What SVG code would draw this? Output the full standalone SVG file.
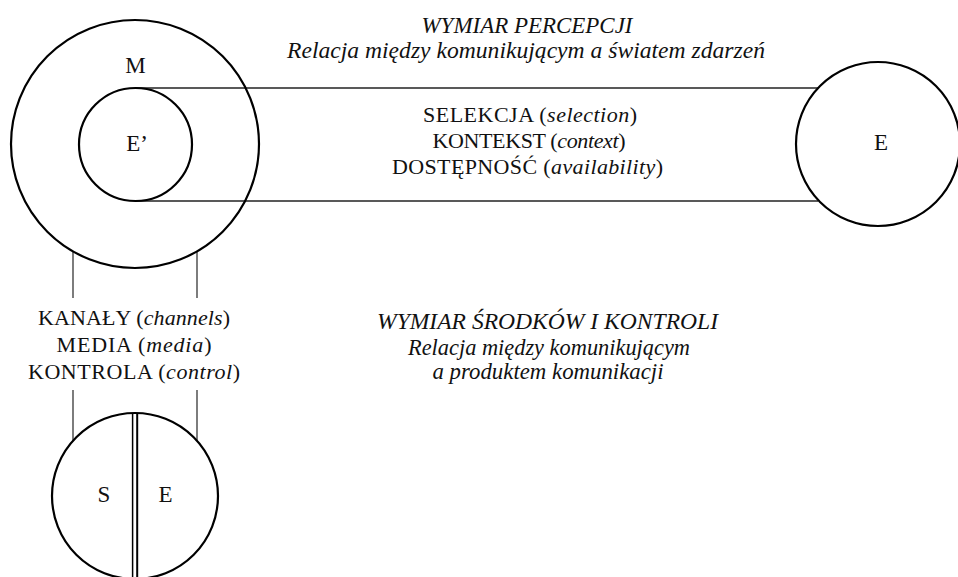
<svg xmlns="http://www.w3.org/2000/svg" width="958" height="577" viewBox="0 0 958 577">
  <style>
    .ring { fill: none; stroke: #000; stroke-width: 2.2; }
    .link { fill: none; stroke: #222; stroke-width: 1.3; }
    .post { fill: none; stroke: #111; stroke-width: 1.1; }
    text { font-family: "Liberation Serif", "DejaVu Serif", serif; font-size: 23px; fill: #111; text-anchor: middle; }
    .mix { font-size: 22px; }
    .it { font-style: italic; }
  </style>
  <rect width="958" height="577" fill="#fff"/>

  <!-- connectors: bands between the circles -->
  <g id="connectors">
    <line class="link" x1="135" y1="88" x2="818" y2="88"/>
    <line class="link" x1="135" y1="201" x2="818" y2="201"/>
    <line class="post" x1="73" y1="252" x2="73" y2="298"/>
    <line class="post" x1="197" y1="252" x2="197" y2="298"/>
    <line class="post" x1="73" y1="390" x2="73" y2="441"/>
    <line class="post" x1="197" y1="390" x2="197" y2="441"/>
  </g>

  <!-- communicator M with inner event image E' -->
  <g id="node-M">
    <circle class="ring" cx="135" cy="144" r="124"/>
    <text x="135.5" y="73">M</text>
  </g>
  <g id="node-Eprime">
    <circle fill="#fff" class="ring" cx="135.5" cy="144.5" r="56.5"/>
    <text x="137" y="151">E’</text>
  </g>

  <!-- event E -->
  <g id="node-E">
    <circle fill="#fff" class="ring" cx="878" cy="144" r="82"/>
    <text x="881" y="150">E</text>
  </g>

  <!-- split circle S | E -->
  <g id="node-SE">
    <circle fill="#fff" class="ring" cx="135" cy="496" r="83"/>
    <line x1="132.6" y1="413" x2="132.6" y2="577" stroke="#000" stroke-width="1.5"/>
    <line x1="137.2" y1="413" x2="137.2" y2="577" stroke="#000" stroke-width="2"/>
    <text x="104" y="502">S</text>
    <text x="165.5" y="502">E</text>
  </g>

  <!-- perception dimension labels -->
  <g id="label-perception">
    <text class="it" x="527" y="33" textLength="211" lengthAdjust="spacingAndGlyphs">WYMIAR PERCEPCJI</text>
    <text class="it" x="526" y="58" textLength="478" lengthAdjust="spacingAndGlyphs">Relacja między komunikującym a światem zdarzeń</text>
  </g>
  <g id="label-band">
    <text class="mix" x="530" y="121.5" textLength="214">SELEKCJA (<tspan class="it">selection</tspan>)</text>
    <text class="mix" x="529" y="147.5" textLength="193">KONTEKST (<tspan class="it">context</tspan>)</text>
    <text class="mix" x="527.5" y="174" textLength="271">DOSTĘPNOŚĆ (<tspan class="it">availability</tspan>)</text>
  </g>

  <!-- means and control dimension labels -->
  <g id="label-channels">
    <text class="mix" x="134" y="325" textLength="192">KANAŁY (<tspan class="it">channels</tspan>)</text>
    <text class="mix" x="134" y="352" textLength="155">MEDIA (<tspan class="it">media</tspan>)</text>
    <text class="mix" x="134" y="379" textLength="212">KONTROLA (<tspan class="it">control</tspan>)</text>
  </g>
  <g id="label-means">
    <text class="it" x="547.5" y="329" textLength="341" lengthAdjust="spacingAndGlyphs">WYMIAR ŚRODKÓW I KONTROLI</text>
    <text class="it" x="549" y="355" textLength="282" lengthAdjust="spacingAndGlyphs">Relacja między komunikującym</text>
    <text class="it" x="548" y="379" textLength="231" lengthAdjust="spacingAndGlyphs">a produktem komunikacji</text>
  </g>
</svg>
